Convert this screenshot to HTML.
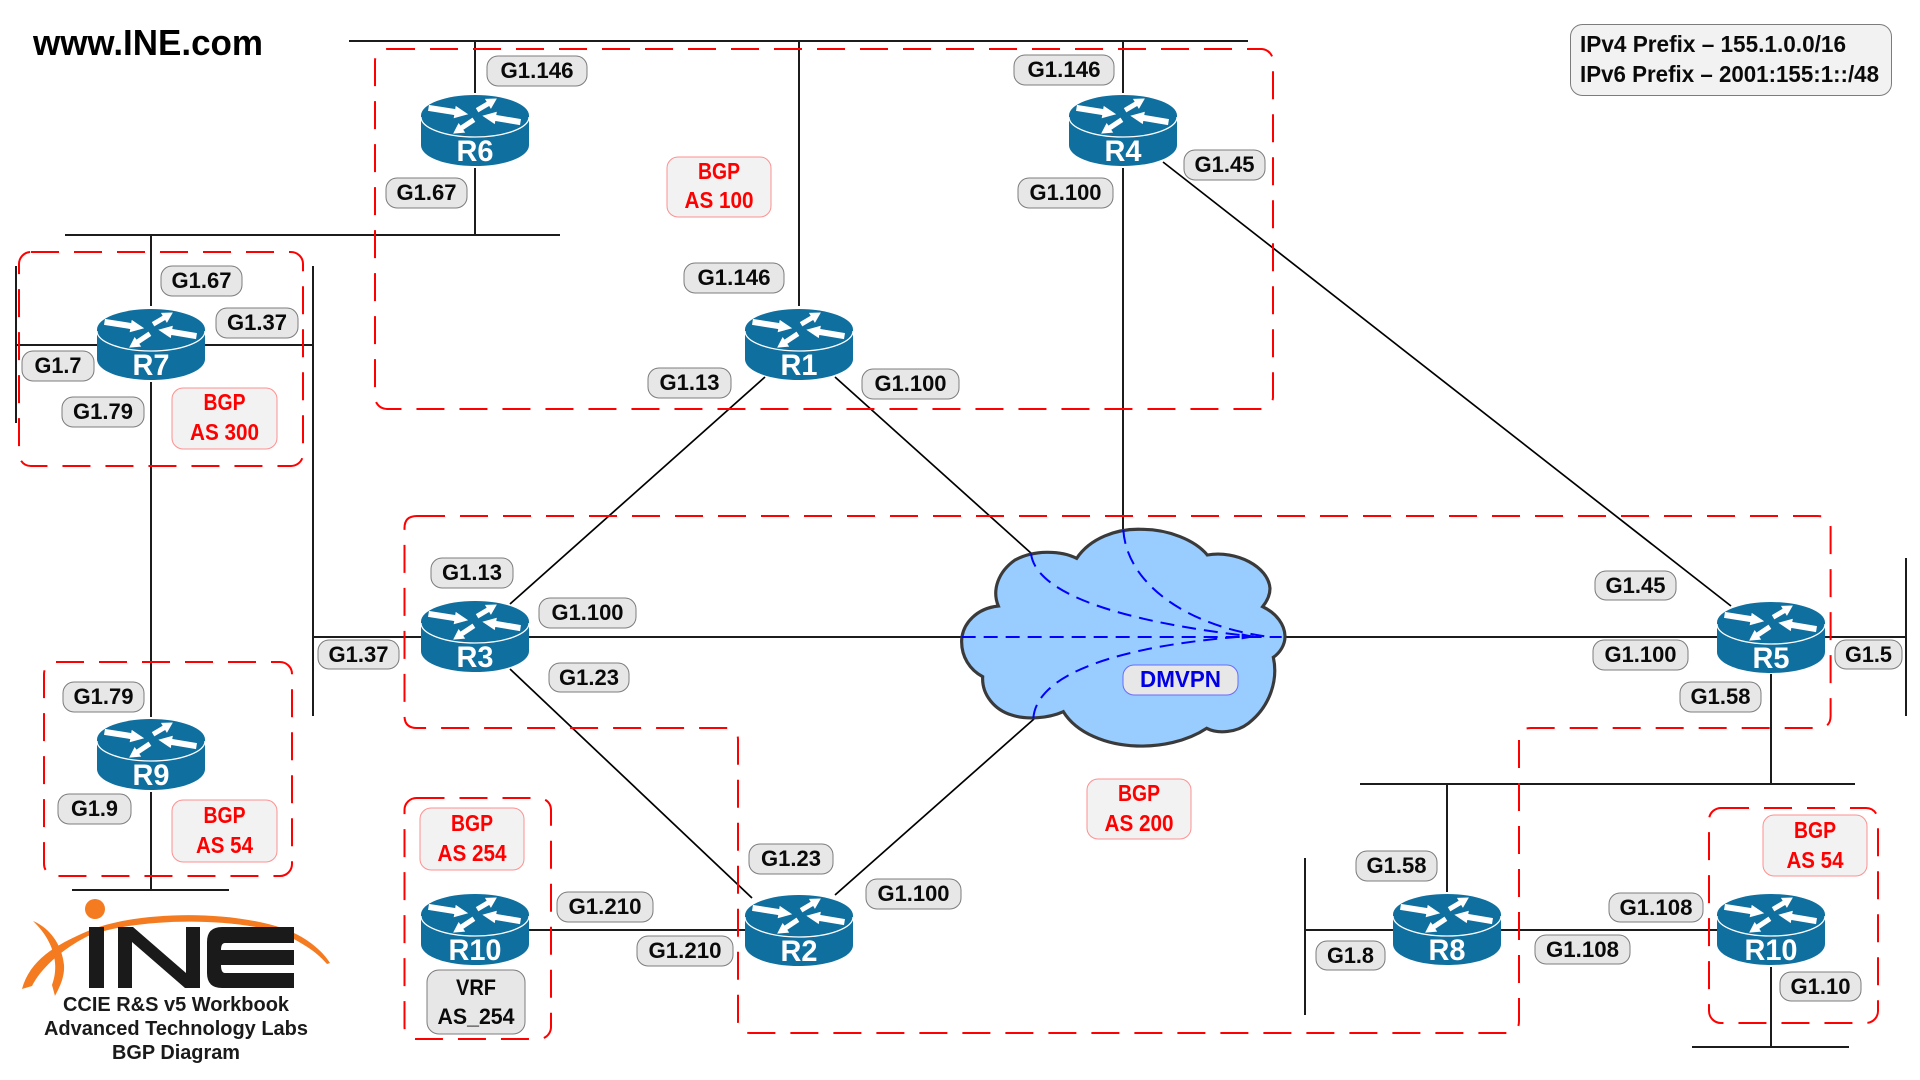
<!DOCTYPE html>
<html lang="en">
<head>
<meta charset="utf-8">
<title>BGP Diagram</title>
<style>
html,body{margin:0;padding:0;background:#fff;width:1920px;height:1080px;overflow:hidden}
svg{display:block}
text{font-family:"Liberation Sans",sans-serif;font-weight:bold}
.l rect{fill:#e7e7e7;stroke:#7c7c7c;stroke-width:1}
.l text{font-size:22px;fill:#0a0a0a;text-anchor:middle}
.b rect{fill:#f2f2f2;stroke:#ff9090;stroke-width:1}
.b text{font-size:23px;fill:#ff0000;text-anchor:middle}
.k line,.k polyline{stroke:#1c1c1c;stroke-width:2;fill:none}
.d line{stroke:#000;stroke-width:1.7}
.r{fill:none;stroke:#ff0000;stroke-width:2;stroke-dasharray:28 15}
.rt{fill:#fff;font-size:30px;text-anchor:middle}
</style>
</head>
<body>
<svg width="1920" height="1080" viewBox="0 0 1920 1080" xmlns="http://www.w3.org/2000/svg">
<defs>
<g id="rtr">
<path d="M-54,20.5 V50 C-54,62 -30,71 0,71 C30,71 54,62 54,50 V20.5 Z" fill="#0f6f9f"/>
<ellipse cx="0" cy="20.5" rx="54" ry="20.5" fill="#0f6f9f"/>
<path d="M-54,22 C-54,33 -30,42 0,42 C30,42 54,33 54,22" fill="none" stroke="#fff" stroke-width="1.3"/>
<g fill="#fff" stroke="#fff" stroke-width="1">
<polygon points="-45.6,10.5 -19.4,14.6 -18.9,11.7 -8,19 -20.7,22.5 -20.2,19.6 -46.4,15.5"/>
<polygon points="45.4,24.5 20.7,20.4 21.2,17.5 8.5,21 19.4,28.3 19.9,25.4 44.6,29.5"/>
<polygon points="1.5,13.3 12.3,6.9 10.8,4.3 21,4 15.9,12.9 14.3,10.3 3.5,16.7"/>
<polygon points="-2.6,23.3 -14.6,31.3 -16.3,28.9 -21,38 -10.7,37.2 -12.4,34.7 -0.4,26.7"/>
</g>
</g>
</defs>
<rect width="1920" height="1080" fill="#fff"/>

<!-- black straight links -->
<g class="k">
<line x1="349" y1="41" x2="1248" y2="41"/>
<line x1="475" y1="41" x2="475" y2="93"/>
<line x1="475" y1="168" x2="475" y2="235"/>
<line x1="65" y1="235" x2="560" y2="235"/>
<line x1="799" y1="41" x2="799" y2="306"/>
<line x1="1123" y1="41" x2="1123" y2="93"/>
<line x1="1123" y1="168" x2="1123" y2="532"/>
<line x1="151" y1="235" x2="151" y2="306"/>
<line x1="151" y1="382" x2="151" y2="717"/>
<line x1="151" y1="792" x2="151" y2="890"/>
<line x1="72" y1="890" x2="229" y2="890"/>
<line x1="16" y1="266" x2="16" y2="423"/>
<line x1="16" y1="345" x2="97" y2="345"/>
<line x1="205" y1="345" x2="313" y2="345"/>
<line x1="313" y1="266" x2="313" y2="716"/>
<line x1="313" y1="637" x2="421" y2="637"/>
<line x1="529" y1="637" x2="962" y2="637"/>
<line x1="1284" y1="637" x2="1717" y2="637"/>
<line x1="1825" y1="637" x2="1906" y2="637"/>
<line x1="1906" y1="558" x2="1906" y2="716"/>
<line x1="1771" y1="674" x2="1771" y2="784"/>
<line x1="1360" y1="784" x2="1855" y2="784"/>
<line x1="1447" y1="784" x2="1447" y2="892"/>
<line x1="1305" y1="930" x2="1393" y2="930"/>
<line x1="1305" y1="858" x2="1305" y2="1015"/>
<line x1="1501" y1="930" x2="1717" y2="930"/>
<line x1="1771" y1="967" x2="1771" y2="1047"/>
<line x1="1692" y1="1047" x2="1849" y2="1047"/>
<line x1="529" y1="930" x2="745" y2="930"/>
</g>
<g class="d">
<line x1="510" y1="604" x2="765" y2="377"/>
<line x1="835" y1="377" x2="1032" y2="554"/>
<line x1="1163" y1="162" x2="1731" y2="606"/>
<line x1="510" y1="669" x2="752" y2="898"/>
<line x1="835" y1="895" x2="1034" y2="719"/>
</g>

<!-- cloud -->
<g transform="translate(920,500) scale(0.33333)">
<path d="M470,175 C510,115 590,85 665,88 C745,88 825,120 862,165 C950,150 1045,200 1050,265 C1050,285 1040,305 1028,320 C1070,340 1095,375 1095,410 C1095,435 1080,458 1060,472 C1075,540 1050,620 985,670 C950,697 895,703 860,685 C800,725 720,740 650,738 C560,735 470,700 430,635 C385,655 320,660 275,645 C225,630 185,585 188,530 C150,510 123,470 125,420 C128,370 170,325 235,318 C215,270 235,215 285,180 C340,150 420,150 470,175 Z" fill="#99ccff" stroke="#3a3a3a" stroke-width="9.5" stroke-linejoin="miter"/>
<g fill="none" stroke="#0000ff" stroke-width="6" stroke-dasharray="42 24">
<path d="M125,411 L1085,411"/>
<path d="M333,160 C345,270 560,360 1000,410"/>
<path d="M610,90 C620,250 800,380 1050,411"/>
<path d="M340,655 C350,520 600,440 950,411"/>
</g>
<polygon points="965,400 1012,410 965,418" fill="#0000ff"/>
</g>

<!-- red dashed regions -->
<rect class="r" x="375" y="49" width="898" height="360" rx="12"/>
<rect class="r" x="19" y="252" width="284" height="214" rx="12"/>
<rect class="r" x="44" y="662" width="248" height="214" rx="12"/>
<rect class="r" x="404.5" y="798" width="146.5" height="241" rx="12"/>
<rect class="r" x="1709" y="808" width="169" height="215" rx="12"/>
<path class="r" d="M417,516 H1818 Q1830.6,516 1830.6,528 V716 Q1830.6,728 1818,728 H1531 Q1519,728 1519,740 V1021 Q1519,1033 1507,1033 H750 Q738,1033 738,1021 V740 Q738,728 726,728 H417 Q404.5,728 404.5,716 V528 Q404.5,516 417,516 Z"/>

<!-- routers -->
<use href="#rtr" x="475" y="95"/><text class="rt" x="475" y="161" textLength="37" lengthAdjust="spacingAndGlyphs">R6</text>
<use href="#rtr" x="1123" y="95"/><text class="rt" x="1123" y="161" textLength="37" lengthAdjust="spacingAndGlyphs">R4</text>
<use href="#rtr" x="151" y="309"/><text class="rt" x="151" y="375" textLength="37" lengthAdjust="spacingAndGlyphs">R7</text>
<use href="#rtr" x="799" y="309"/><text class="rt" x="799" y="375" textLength="37" lengthAdjust="spacingAndGlyphs">R1</text>
<use href="#rtr" x="475" y="601"/><text class="rt" x="475" y="667" textLength="37" lengthAdjust="spacingAndGlyphs">R3</text>
<use href="#rtr" x="1771" y="602"/><text class="rt" x="1771" y="668" textLength="37" lengthAdjust="spacingAndGlyphs">R5</text>
<use href="#rtr" x="151" y="719"/><text class="rt" x="151" y="785" textLength="37" lengthAdjust="spacingAndGlyphs">R9</text>
<use href="#rtr" x="475" y="894"/><text class="rt" x="475" y="960" textLength="53" lengthAdjust="spacingAndGlyphs">R10</text>
<use href="#rtr" x="799" y="895"/><text class="rt" x="799" y="961" textLength="37" lengthAdjust="spacingAndGlyphs">R2</text>
<use href="#rtr" x="1447" y="894"/><text class="rt" x="1447" y="960" textLength="37" lengthAdjust="spacingAndGlyphs">R8</text>
<use href="#rtr" x="1771" y="894"/><text class="rt" x="1771" y="960" textLength="53" lengthAdjust="spacingAndGlyphs">R10</text>

<!-- interface labels -->
<g class="l">
<rect x="487" y="56" width="100" height="30" rx="11"/><text x="537" y="78" textLength="73" lengthAdjust="spacingAndGlyphs">G1.146</text>
<rect x="386" y="178" width="81" height="30" rx="11"/><text x="426.5" y="200" textLength="60" lengthAdjust="spacingAndGlyphs">G1.67</text>
<rect x="161" y="266" width="81" height="30" rx="11"/><text x="201.5" y="288" textLength="60" lengthAdjust="spacingAndGlyphs">G1.67</text>
<rect x="216" y="308" width="82" height="30" rx="11"/><text x="257" y="330" textLength="60" lengthAdjust="spacingAndGlyphs">G1.37</text>
<rect x="22" y="351" width="72" height="30" rx="11"/><text x="58" y="373" textLength="47" lengthAdjust="spacingAndGlyphs">G1.7</text>
<rect x="62" y="397" width="82" height="30" rx="11"/><text x="103" y="419" textLength="60" lengthAdjust="spacingAndGlyphs">G1.79</text>
<rect x="318" y="640" width="81" height="29" rx="11"/><text x="358.5" y="662" textLength="60" lengthAdjust="spacingAndGlyphs">G1.37</text>
<rect x="549" y="663" width="80" height="29" rx="11"/><text x="589" y="685" textLength="60" lengthAdjust="spacingAndGlyphs">G1.23</text>
<rect x="63" y="682" width="81" height="30" rx="11"/><text x="103.5" y="704" textLength="60" lengthAdjust="spacingAndGlyphs">G1.79</text>
<rect x="58" y="794" width="73" height="30" rx="11"/><text x="94.5" y="816" textLength="47" lengthAdjust="spacingAndGlyphs">G1.9</text>
<rect x="557" y="892" width="96" height="30" rx="11"/><text x="605" y="914" textLength="73" lengthAdjust="spacingAndGlyphs">G1.210</text>
<rect x="637" y="936" width="96" height="30" rx="11"/><text x="685" y="958" textLength="73" lengthAdjust="spacingAndGlyphs">G1.210</text>
<rect x="749" y="844" width="84" height="30" rx="11"/><text x="791" y="866" textLength="60" lengthAdjust="spacingAndGlyphs">G1.23</text>
<rect x="866" y="879" width="95" height="30" rx="11"/><text x="913.5" y="901" textLength="72" lengthAdjust="spacingAndGlyphs">G1.100</text>
<rect x="684" y="263" width="100" height="30" rx="11"/><text x="734" y="285" textLength="73" lengthAdjust="spacingAndGlyphs">G1.146</text>
<rect x="648" y="368" width="83" height="30" rx="11"/><text x="689.5" y="390" textLength="60" lengthAdjust="spacingAndGlyphs">G1.13</text>
<rect x="862" y="369" width="97" height="30" rx="11"/><text x="910.5" y="391" textLength="72" lengthAdjust="spacingAndGlyphs">G1.100</text>
<rect x="431" y="558" width="82" height="30" rx="11"/><text x="472" y="580" textLength="60" lengthAdjust="spacingAndGlyphs">G1.13</text>
<rect x="539" y="598" width="97" height="30" rx="11"/><text x="587.5" y="620" textLength="72" lengthAdjust="spacingAndGlyphs">G1.100</text>
<rect x="1014" y="55" width="100" height="30" rx="11"/><text x="1064" y="77" textLength="73" lengthAdjust="spacingAndGlyphs">G1.146</text>
<rect x="1184" y="150" width="81" height="30" rx="11"/><text x="1224.5" y="172" textLength="60" lengthAdjust="spacingAndGlyphs">G1.45</text>
<rect x="1018" y="178" width="95" height="30" rx="11"/><text x="1065.5" y="200" textLength="72" lengthAdjust="spacingAndGlyphs">G1.100</text>
<rect x="1595" y="571" width="81" height="29" rx="11"/><text x="1635.5" y="593" textLength="60" lengthAdjust="spacingAndGlyphs">G1.45</text>
<rect x="1593" y="640" width="95" height="30" rx="11"/><text x="1640.5" y="662" textLength="72" lengthAdjust="spacingAndGlyphs">G1.100</text>
<rect x="1835" y="640" width="67" height="29" rx="11"/><text x="1868.5" y="662" textLength="47" lengthAdjust="spacingAndGlyphs">G1.5</text>
<rect x="1680" y="682" width="81" height="30" rx="11"/><text x="1720.5" y="704" textLength="60" lengthAdjust="spacingAndGlyphs">G1.58</text>
<rect x="1356" y="851" width="81" height="30" rx="11"/><text x="1396.5" y="873" textLength="60" lengthAdjust="spacingAndGlyphs">G1.58</text>
<rect x="1316" y="941" width="69" height="29" rx="11"/><text x="1350.5" y="963" textLength="47" lengthAdjust="spacingAndGlyphs">G1.8</text>
<rect x="1609" y="893" width="94" height="29" rx="11"/><text x="1656" y="915" textLength="73" lengthAdjust="spacingAndGlyphs">G1.108</text>
<rect x="1535" y="935" width="95" height="29" rx="11"/><text x="1582.5" y="957" textLength="73" lengthAdjust="spacingAndGlyphs">G1.108</text>
<rect x="1780" y="972" width="81" height="29" rx="11"/><text x="1820.5" y="994" textLength="60" lengthAdjust="spacingAndGlyphs">G1.10</text>
</g>

<!-- VRF box -->
<g class="l">
<rect x="427" y="970" width="98" height="64" rx="12"/>
<text x="476" y="995" textLength="40" lengthAdjust="spacingAndGlyphs">VRF</text>
<text x="476" y="1024" textLength="77" lengthAdjust="spacingAndGlyphs">AS_254</text>
</g>

<!-- BGP boxes -->
<g class="b">
<rect x="667" y="157" width="104" height="60" rx="11"/><text x="719" y="179" textLength="42" lengthAdjust="spacingAndGlyphs">BGP</text><text x="719" y="208" textLength="69" lengthAdjust="spacingAndGlyphs">AS 100</text>
<rect x="172" y="388" width="105" height="61" rx="11"/><text x="224.5" y="410" textLength="42" lengthAdjust="spacingAndGlyphs">BGP</text><text x="224.5" y="440" textLength="69" lengthAdjust="spacingAndGlyphs">AS 300</text>
<rect x="172" y="800" width="105" height="62" rx="11"/><text x="224.5" y="823" textLength="42" lengthAdjust="spacingAndGlyphs">BGP</text><text x="224.5" y="853" textLength="57" lengthAdjust="spacingAndGlyphs">AS 54</text>
<rect x="420" y="808" width="104" height="62" rx="11"/><text x="472" y="831" textLength="42" lengthAdjust="spacingAndGlyphs">BGP</text><text x="472" y="861" textLength="69" lengthAdjust="spacingAndGlyphs">AS 254</text>
<rect x="1087" y="779" width="104" height="60" rx="11"/><text x="1139" y="801" textLength="42" lengthAdjust="spacingAndGlyphs">BGP</text><text x="1139" y="831" textLength="69" lengthAdjust="spacingAndGlyphs">AS 200</text>
<rect x="1763" y="815" width="104" height="61" rx="11"/><text x="1815" y="838" textLength="42" lengthAdjust="spacingAndGlyphs">BGP</text><text x="1815" y="868" textLength="57" lengthAdjust="spacingAndGlyphs">AS 54</text>
</g>

<!-- DMVPN -->
<rect x="1123" y="665" width="115" height="30" rx="11" fill="#e7e7e7" stroke="#6a6aff" stroke-width="1"/>
<text x="1180.5" y="687" font-size="23" fill="#0000e6" text-anchor="middle" textLength="81" lengthAdjust="spacingAndGlyphs">DMVPN</text>

<!-- prefix box -->
<rect x="1570.5" y="24.5" width="321" height="71" rx="12" fill="#f2f2f2" stroke="#7c7c7c" stroke-width="1"/>
<text x="1580" y="52" font-size="23" fill="#0a0a0a" textLength="266" lengthAdjust="spacingAndGlyphs">IPv4 Prefix – 155.1.0.0/16</text>
<text x="1580" y="82" font-size="23" fill="#0a0a0a" textLength="299" lengthAdjust="spacingAndGlyphs">IPv6 Prefix – 2001:155:1::/48</text>

<!-- title -->
<text x="33" y="55" font-size="36" fill="#000" textLength="230" lengthAdjust="spacingAndGlyphs">www.INE.com</text>

<!-- INE logo -->
<g fill="#f47b20">
<ellipse cx="95" cy="909" rx="10" ry="10"/>
<path d="M22,989 C30,960 55,945 88,931 C130,913 220,908 282,928 C305,936 322,950 330,963 L327,964 C315,950 300,942 282,933 C220,915 130,920 88,936 C60,950 40,970 32,986 Z"/>
<path d="M33,921 C50,928 62,945 64,965 C65,978 58,990 55,996 L52,985 C58,970 58,945 33,921 Z"/>
</g>
<g fill="#1a1a1a">
<rect x="89" y="927" width="15" height="61"/>
<polygon points="118,927 133,927 186,973 186,927 200,927 200,988 185,988 132,942 132,988 118,988"/>
<path d="M294,927 H222 Q207,927 207,942 V973 Q207,988 222,988 H294 V973 H225 Q221,973 221,965 H294 V950 H221 Q221,943 225,943 H294 Z"/>
</g>
<g font-size="20" fill="#1a1a1a" text-anchor="middle">
<text x="176" y="1011" textLength="226" lengthAdjust="spacingAndGlyphs">CCIE R&amp;S v5 Workbook</text>
<text x="176" y="1035" textLength="264" lengthAdjust="spacingAndGlyphs">Advanced Technology Labs</text>
<text x="176" y="1059" textLength="128" lengthAdjust="spacingAndGlyphs">BGP Diagram</text>
</g>
</svg>
</body>
</html>
